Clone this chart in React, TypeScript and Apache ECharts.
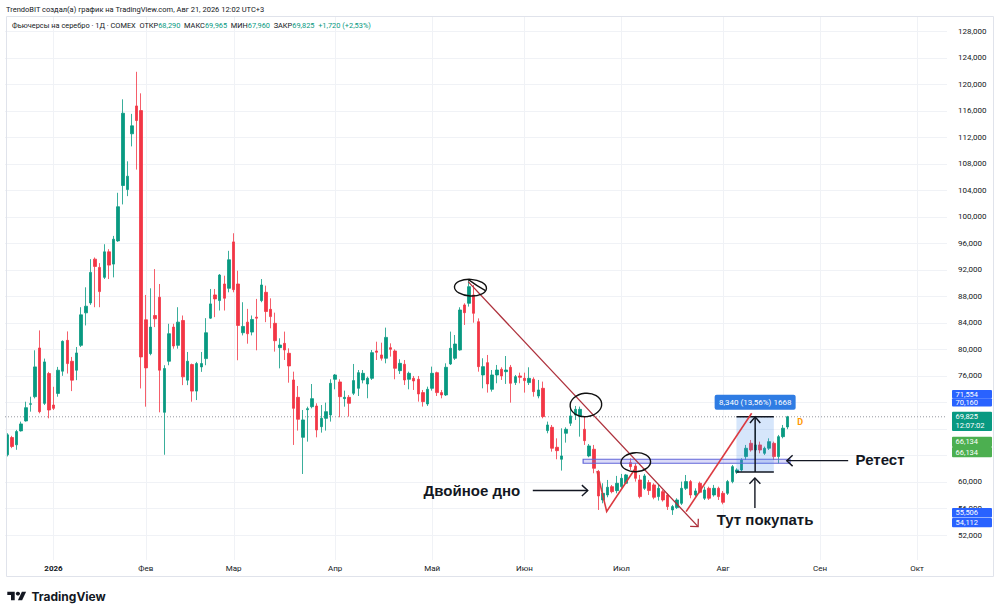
import React, { useEffect, useRef } from "react";
import * as echarts from "echarts";

// ---------- DATA ----------
const TOTAL_SLOTS = 204; // trading-day slots on the time scale (incl. empty future days)
const Y_MIN = 48532;
const Y_MAX = 130262;

// Daily candles [open, high, low, close]
const candlesOHLC: number[][] = [
  [64100, 67350, 63850, 67100], [66700, 66950, 65100, 65350], [65600, 67850, 64850, 67600], [67700, 69100, 67600, 68750],
  [69200, 72100, 69100, 71200], [71700, 72850, 70600, 71800], [72850, 79850, 72600, 77350], [80200, 82850, 70350, 70600],
  [71850, 78600, 71600, 78100], [76350, 76600, 69600, 70850], [71600, 74350, 70850, 71100], [73350, 77350, 72850, 76850],
  [76700, 81350, 76000, 81200], [81350, 82700, 76350, 77850], [78200, 78850, 73700, 75350], [76850, 80350, 75350, 79450],
  [80600, 86350, 80350, 85200], [85500, 89350, 83600, 86500], [87000, 93600, 86700, 91600], [93600, 93850, 86350, 92500],
  [92350, 93000, 86350, 88700], [90850, 95850, 90600, 94700], [94700, 95100, 90600, 92700], [92850, 97100, 90850, 96600],
  [96350, 103600, 96200, 101500], [104700, 117700, 101850, 115600], [104100, 108350, 103100, 106100], [112500, 115500, 110600, 113700],
  [116700, 121850, 107100, 114500], [116000, 118600, 74100, 78850], [84450, 88200, 71350, 77200], [79350, 89200, 79100, 83350],
  [85100, 92100, 83350, 84600], [87850, 89850, 70500, 76850], [70500, 77600, 64100, 77100], [78200, 83850, 77600, 82350],
  [83350, 83850, 80100, 80500], [80600, 86350, 80100, 84100], [84350, 85100, 74600, 75850], [75350, 79600, 74600, 78200],
  [77700, 77850, 72100, 73700], [73700, 78100, 72350, 77850], [77350, 79600, 76600, 77850], [78600, 84700, 77600, 82500],
  [84700, 89100, 84600, 86850], [88200, 89100, 84850, 87600], [87350, 91350, 85850, 91200], [89850, 91100, 85850, 87700],
  [89200, 94850, 88600, 93500], [96200, 97500, 88600, 89000], [89850, 91850, 78350, 83600], [82500, 87100, 82100, 83450],
  [84100, 86100, 80850, 82350], [82600, 85100, 82100, 84500], [84850, 87600, 79850, 84700], [87350, 90600, 87100, 89700],
  [88600, 89600, 84100, 85700], [86030, 87690, 83170, 84930], [83920, 85530, 79650, 81300], [80250, 81660, 77130, 80650],
  [80900, 82670, 78390, 79900], [79400, 80150, 74970, 77490], [75380, 76630, 65580, 71100], [72760, 74470, 67740, 69450],
  [66730, 70850, 61200, 69350], [70900, 71350, 66080, 71050], [71350, 74770, 71100, 72560], [71450, 71860, 66730, 67840],
  [68340, 71600, 67440, 69590], [69590, 71960, 67740, 70600], [70100, 75480, 69100, 74870], [75480, 76280, 73970, 76130],
  [75080, 75480, 69750, 72860], [72560, 73770, 71350, 72760], [72760, 73100, 69850, 71860], [73370, 77790, 73100, 75280],
  [74120, 76880, 72960, 76480], [75380, 76880, 74870, 76380], [74770, 75880, 72620, 75640], [75630, 79900, 75380, 79500],
  [79750, 81150, 78390, 79550], [79150, 81000, 78300, 78650], [78650, 83270, 77890, 81800], [80250, 80900, 78900, 80000],
  [79750, 80000, 75480, 77140], [76780, 78500, 76280, 77890], [77740, 78390, 74620, 75380], [75480, 76630, 73970, 76380],
  [75630, 75980, 73870, 75230], [75480, 75980, 72110, 73270], [73470, 73870, 71360, 72110], [71760, 74370, 71460, 73970],
  [74120, 77390, 73770, 76380], [76480, 76630, 72960, 73470], [73470, 73870, 72610, 73120], [73120, 77890, 72960, 77290],
  [77790, 82670, 77640, 80150], [78650, 82160, 78390, 80800], [79900, 86340, 79800, 85930], [86690, 86940, 83670, 85530],
  [86940, 90560, 86440, 89450], [88200, 89700, 84020, 85430], [84170, 84670, 76630, 77390], [76130, 78650, 74120, 77390],
  [77990, 79150, 73470, 74780], [73970, 76880, 73620, 76130], [76130, 77640, 74880, 76880], [76990, 77290, 75380, 75980],
  [76630, 78990, 74780, 76880], [77290, 77640, 71960, 74880], [74980, 76130, 74620, 75880], [75980, 76480, 74880, 75780],
  [75630, 76480, 73470, 75280], [74980, 77290, 74620, 75630], [75480, 75780, 72860, 73620], [72960, 75380, 72610, 73870],
  [74120, 75130, 69600, 69850], [67740, 69100, 67340, 68590], [68240, 68590, 64570, 65080], [65230, 66580, 63420, 64720],
  [63420, 68090, 61710, 63920], [67340, 68240, 65930, 67940], [68850, 71360, 68440, 69950], [70100, 71460, 69350, 70950],
  [69950, 71360, 66830, 70950], [67940, 69850, 65580, 66230], [63920, 65720, 63720, 65430], [64930, 65580, 61310, 62060],
  [61560, 61810, 55780, 57890], [57290, 59800, 56780, 58290], [58040, 60300, 57690, 59200], [59290, 59540, 58290, 58540],
  [58690, 60910, 58290, 59800], [59300, 61210, 59040, 60550], [59800, 61210, 59700, 61060], [62910, 63570, 61810, 62310],
  [62410, 62810, 60050, 60550], [60300, 61060, 57530, 57790], [59040, 61210, 58800, 60910], [59900, 60300, 58040, 58700],
  [59550, 59800, 57390, 57690], [57790, 59550, 57190, 59040], [58540, 58800, 57040, 57290], [58040, 58290, 55780, 56280],
  [55780, 56530, 55030, 56280], [56130, 57540, 55930, 57280], [56780, 60050, 56530, 59040], [59040, 61050, 58790, 60050],
  [60050, 60300, 57540, 58040], [58040, 59040, 57790, 58640], [59800, 60050, 58290, 58440], [57540, 59290, 57280, 58790],
  [59040, 59290, 57280, 57540], [58040, 59550, 57790, 59040], [59040, 59290, 57280, 57790], [58290, 58640, 56630, 56930],
  [58290, 60300, 58040, 60050], [60050, 62560, 59800, 62310], [61460, 62060, 61210, 61810], [61810, 63570, 61560, 63320],
  [63820, 65580, 63320, 65080], [65830, 66330, 64570, 64820], [64820, 68090, 64570, 65580], [65580, 66080, 64320, 64820],
  [64320, 65330, 64070, 65080], [65080, 66580, 64820, 66080], [65830, 66080, 63320, 63820], [63820, 67090, 62810, 66830],
  [66830, 68590, 66580, 68105], [68290, 69965, 67960, 69825],
];

// Month labels on the time scale: [slot index, label]
const monthTicks: Array<[number, string]> = [
  [10, "2026"], [30, "Фев"], [49, "Мар"], [71, "Апр"], [92, "Май"],
  [112, "Июн"], [133, "Июл"], [155, "Авг"], [176, "Сен"], [197, "Окт"],
];

const priceTicks = [
  52000, 56000, 60000, 64000, 68000, 72000, 76000, 80000, 84000, 88000,
  92000, 96000, 100000, 104000, 108000, 112000, 116000, 120000, 124000, 128000,
];
// tick labels hidden behind the price tags on the scale
const coveredTicks = [64000, 68000, 72000];

const lastClose = 69825;
const countdown = "12:07:02";
const priceTagValues = [71554, 70160, 69825, 66134, 66134, 55506, 54112];

const headerLine1 = "TrendoBIT создал(а) график на TradingView.com, Авг 21, 2026 12:02 UTC+3";
const symbolTitle = "Фьючерсы на серебро · 1Д · COMEX";
const ohlcLegend: Array<[string, string]> = [["ОТКР", "68,290"], ["МАКС", "69,965"], ["МИН", "67,960"], ["ЗАКР", "69,825"]];
const changeText = "+1,720 (+2,53%)";

// Drawings (in [slot, price] coordinates)
const trendLine = [[99.8, 90200], [149.6, 53260]];
const doubleBottomV = [[127.7, 61660], [129.8, 55550], [136.2, 62260]];
const breakoutLine = [[147.0, 55520], [161.2, 70360]];
const circledPoints = [[100.3, 89300], [125.3, 71610], [136.1, 62980]];
const retestZone = { from: 124.7, to: 169.5, low: 62820, high: 63420 };
const measure = { from: 157.9, to: 166.0, low: 61485, high: 69825, label: "8,340 (13,56%) 1668" };
const callouts = [
  { text: "Двойное дно", textAt: [100.6, 58700], from: [113.8, 58700], to: [125.7, 58700] },
  { text: "Ретест", textAt: [189.0, 63320], from: [182.1, 63210], to: [168.8, 63210] },
  { text: "Тут покупать", textAt: [164.1, 54270], from: [161.9, 56080], to: [161.9, 60600] },
];
const eventMark = { text: "D", at: [171.7, 69030] };

// ---------- STYLE ----------
const UP = "#089981";
const DOWN = "#f23645";
const INK = "#131722";
const GRIDLINE = "#f0f2f6";
const FONT = 'Roboto, "Noto Sans", "DejaVu Sans", sans-serif';
const ANNO_FONT = '"Liberation Sans", Arial, sans-serif';

const circleSizes = [
  { rx: 16, ry: 8.3, rot: -0.05 },
  { rx: 15.8, ry: 11.7, rot: 0.1 },
  { rx: 14.8, ry: 9.5, rot: 0.05 },
];

const tagLayout = [
  { cy: 394.2, h: 8.2, color: "#2962ff" },
  { cy: 402.4, h: 8.2, color: "#2962ff" },
  { cy: 421.3, h: 19.3, color: "#089981" },
  { cy: 441.8, h: 10.2, color: "#4caf50" },
  { cy: 452.1, h: 10.2, color: "#4caf50" },
  { cy: 512.8, h: 9.4, color: "#2962ff" },
  { cy: 522.6, h: 9.4, color: "#2962ff" },
];

const fmt = (v: number) => v.toLocaleString("en-US");

function arrowHead(tip: number[], from: number[], size: number, half: number) {
  const dx = tip[0] - from[0];
  const dy = tip[1] - from[1];
  const len = Math.hypot(dx, dy) || 1;
  const bx = -dx / len;
  const by = -dy / len;
  const rot = (a: number) => [
    tip[0] + size * (bx * Math.cos(a) - by * Math.sin(a)),
    tip[1] + size * (bx * Math.sin(a) + by * Math.cos(a)),
  ];
  return [rot(half), tip, rot(-half)];
}

function textEl(x: number, y: number, text: string, opts: any) {
  return {
    type: "text",
    x,
    y,
    style: {
      text,
      fill: opts.fill,
      font: opts.font,
      fontSize: opts.fontSize,
      fontWeight: opts.fontWeight,
      fontFamily: opts.fontFamily,
      align: opts.align || "center",
      verticalAlign: "middle",
      textAlign: opts.align || "center",
      textVerticalAlign: "middle",
    },
  };
}

function renderGrid(_params: any, api: any) {
  const c = (v: number[]) => api.coord(v) as number[];
  const children: any[] = [];
  priceTicks.forEach((p) => {
    const a = c([-0.5, p]);
    const b = c([TOTAL_SLOTS - 0.5, p]);
    const y = Math.round(a[1]) + 0.5;
    children.push({ type: "line", shape: { x1: a[0], y1: y, x2: b[0], y2: y }, style: { stroke: GRIDLINE, lineWidth: 1 } });
  });
  monthTicks.forEach(([s]) => {
    const a = c([s, Y_MAX]);
    const b = c([s, Y_MIN]);
    const x = Math.round(a[0]) + 0.5;
    children.push({ type: "line", shape: { x1: x, y1: a[1], x2: x, y2: b[1] + 2 }, style: { stroke: GRIDLINE, lineWidth: 1 } });
  });
  const l1 = c([-0.5, lastClose]);
  const l2 = c([TOTAL_SLOTS - 0.5, lastClose]);
  children.push({
    type: "line",
    shape: { x1: l1[0], y1: l1[1], x2: l2[0], y2: l2[1] },
    style: { stroke: "#9598a1", lineWidth: 1, lineDash: [1, 2] },
  });
  return { type: "group", children };
}

function renderDrawings(_params: any, api: any) {
  const c = (v: number[]) => api.coord(v) as number[];
  const children: any[] = [];
  const RED_DARK = "#ad2f3a";
  const RED = "#dc3a40";

  // retest zone
  const z1 = c([retestZone.from, retestZone.high]);
  const z2 = c([retestZone.to, retestZone.low]);
  children.push({
    type: "rect",
    shape: { x: z1[0], y: z1[1], width: z2[0] - z1[0], height: z2[1] - z1[1] },
    style: { fill: "rgba(110,112,224,0.25)", stroke: "#6266d9", lineWidth: 1.2 },
  });

  // measure box
  const m1 = c([measure.from, measure.high]);
  const m2 = c([measure.to, measure.low]);
  children.push({
    type: "rect",
    shape: { x: m1[0], y: m1[1], width: m2[0] - m1[0], height: m2[1] - m1[1] },
    style: { fill: "rgba(70,140,235,0.22)" },
  });
  children.push({ type: "line", shape: { x1: m1[0], y1: m1[1], x2: m2[0], y2: m1[1] }, style: { stroke: INK, lineWidth: 1.5 } });
  children.push({ type: "line", shape: { x1: m1[0], y1: m2[1], x2: m2[0], y2: m2[1] }, style: { stroke: INK, lineWidth: 1.5 } });
  const mx = (m1[0] + m2[0]) / 2;
  children.push({ type: "line", shape: { x1: mx, y1: m2[1], x2: mx, y2: m1[1] }, style: { stroke: INK, lineWidth: 1.5 } });
  children.push({
    type: "polyline",
    shape: { points: arrowHead([mx, m1[1]], [mx, m2[1]], 8, 0.7) },
    style: { stroke: INK, lineWidth: 1.5, fill: null },
  });
  const lw = 81;
  const lh = 15;
  const ly = m1[1] - 14.5;
  children.push({
    type: "rect",
    shape: { x: mx - lw / 2, y: ly - lh / 2, width: lw, height: lh, r: 2 },
    style: { fill: "#2f7ce3" },
  });
  children.push(textEl(mx, ly, measure.label, { fill: "#ffffff", font: `8px ${FONT}`, fontSize: 8, fontFamily: FONT }));

  // red trend line with arrow
  const t1 = c(trendLine[0]);
  const t2 = c(trendLine[1]);
  children.push({ type: "line", shape: { x1: t1[0], y1: t1[1], x2: t2[0], y2: t2[1] }, style: { stroke: RED_DARK, lineWidth: 1.3 } });
  children.push({
    type: "polyline",
    shape: { points: arrowHead(t2, t1, 8, 0.78) },
    style: { stroke: RED_DARK, lineWidth: 1.3, fill: null },
  });

  // double bottom V
  children.push({
    type: "polyline",
    shape: { points: doubleBottomV.map(c) },
    style: { stroke: RED, lineWidth: 1.6, fill: null },
  });
  // breakout line
  const b1 = c(breakoutLine[0]);
  const b2 = c(breakoutLine[1]);
  children.push({ type: "line", shape: { x1: b1[0], y1: b1[1], x2: b2[0], y2: b2[1] }, style: { stroke: RED, lineWidth: 1.6 } });

  // hand-drawn circles
  circledPoints.forEach((p, i) => {
    const q = c(p);
    const s = circleSizes[i];
    children.push({
      type: "ellipse",
      x: q[0],
      y: q[1],
      rotation: s.rot,
      shape: { cx: 0, cy: 0, rx: s.rx, ry: s.ry },
      style: { fill: "none", stroke: "#111111", lineWidth: 1.4 },
    });
  });
  // small hook inside the first circle
  const h0 = c(circledPoints[0]);
  children.push({
    type: "bezierCurve",
    shape: { x1: h0[0] - 2, y1: h0[1] - 8, cpx1: h0[0] + 6, cpy1: h0[1] - 2, x2: h0[0] + 15, y2: h0[1] + 3 },
    style: { stroke: "#111111", lineWidth: 1.3, fill: null },
  });

  // callout arrows + texts
  callouts.forEach((co) => {
    const a = c(co.from);
    const b = c(co.to);
    children.push({ type: "line", shape: { x1: a[0], y1: a[1], x2: b[0], y2: b[1] }, style: { stroke: INK, lineWidth: 1.4 } });
    children.push({
      type: "polyline",
      shape: { points: arrowHead(b, a, 8, 0.75) },
      style: { stroke: INK, lineWidth: 1.4, fill: null },
    });
    const t = c(co.textAt);
    children.push(
      textEl(t[0], t[1], co.text, {
        fill: INK,
        font: `bold 15px ${ANNO_FONT}`,
        fontSize: 15,
        fontWeight: "bold",
        fontFamily: ANNO_FONT,
      })
    );
  });

  // event marker
  const d = c(eventMark.at);
  children.push(textEl(d[0], d[1], eventMark.text, { fill: "#ff9800", font: `bold 9px ${FONT}`, fontSize: 9, fontWeight: "bold", fontFamily: FONT }));

  return { type: "group", children };
}

function buildGraphics() {
  const els: any[] = [];
  // pane border
  els.push({
    type: "rect",
    z: 50,
    silent: true,
    shape: { x: 6.5, y: 16.5, width: 987, height: 560 },
    style: { fill: "none", stroke: "#e0e3eb", lineWidth: 1 },
  });
  // price tags on the scale
  priceTagValues.forEach((v, i) => {
    const L = tagLayout[i];
    els.push({
      type: "rect",
      z: 100,
      silent: true,
      shape: { x: 952, y: L.cy - L.h / 2, width: 40, height: L.h, r: 1 },
      style: { fill: L.color },
    });
    const twoLine = v === lastClose;
    const textY = twoLine ? L.cy - 4.6 : L.cy;
    els.push({
      type: "text",
      z: 101,
      silent: true,
      x: 955.5,
      y: textY,
      style: { text: fmt(v), fill: "#ffffff", font: `7.5px ${FONT}`, textAlign: "left", textVerticalAlign: "middle", align: "left", verticalAlign: "middle" },
    });
    if (twoLine) {
      els.push({
        type: "text",
        z: 101,
        silent: true,
        x: 955.5,
        y: L.cy + 4.6,
        style: { text: countdown, fill: "#ffffff", font: `7.5px ${FONT}`, textAlign: "left", textVerticalAlign: "middle", align: "left", verticalAlign: "middle" },
      });
    }
  });
  // TradingView logo
  els.push({
    type: "group",
    z: 100,
    x: 7.3,
    y: 589.8,
    scaleX: 0.53,
    scaleY: 0.47,
    silent: true,
    children: [
      { type: "polygon", shape: { points: [[0, 4], [14, 4], [14, 22], [7, 22], [7, 11], [0, 11]] }, style: { fill: INK } },
      { type: "circle", shape: { cx: 20, cy: 8, r: 4 }, style: { fill: INK } },
      { type: "polygon", shape: { points: [[20, 22], [27.5, 4], [35.5, 4], [28, 22]] }, style: { fill: INK } },
    ],
  });
  els.push({
    type: "text",
    z: 100,
    silent: true,
    x: 31.5,
    y: 596.5,
    style: { text: "TradingView", fill: INK, font: `bold 12px Inter, ${FONT}`, textAlign: "left", textVerticalAlign: "middle", align: "left", verticalAlign: "middle" },
  });
  return els;
}

function buildOption() {
  const slots = Array.from({ length: TOTAL_SLOTS }, (_, i) => String(i));
  const monthMap = new Map<number, string>(monthTicks);
  const candleData = candlesOHLC.map(([o, h, l, c]) => [o, c, l, h]);
  const labelTicks = priceTicks.filter((p) => !coveredTicks.includes(p));

  let legendRich = `{d|${symbolTitle}}{d|  }`;
  ohlcLegend.forEach(([k, v]) => {
    legendRich += `{d|${k}}{g|${v}}{d|  }`;
  });
  legendRich += `{g|${changeText}}`;

  return {
    animation: false,
    backgroundColor: "#ffffff",
    textStyle: { fontFamily: FONT },
    title: [
      {
        text: headerLine1,
        left: 6,
        top: 5,
        padding: 0,
        textStyle: { fontSize: 7.5, fontWeight: "normal", color: INK, fontFamily: FONT },
      },
      {
        text: legendRich,
        left: 12,
        top: 21.5,
        padding: 0,
        textStyle: {
          fontSize: 7.5,
          fontWeight: "normal",
          rich: {
            d: { fontSize: 7.4, color: INK, fontFamily: FONT },
            g: { fontSize: 7.4, color: UP, fontFamily: FONT },
          },
        },
      },
    ],
    grid: { left: 5, right: 53, top: 16, bottom: 58 },
    xAxis: [
      {
        type: "category",
        data: slots,
        boundaryGap: true,
        axisLine: { show: false },
        axisTick: { show: false },
        splitLine: { show: false },
        axisLabel: {
          interval: (i: number) => monthMap.has(i),
          formatter: (_v: string, i: number) => {
            const s = monthMap.get(i) || "";
            return /^\d+$/.test(s) ? `{y|${s}}` : s;
          },
          margin: 6,
          fontSize: 8,
          color: INK,
          fontFamily: FONT,
          rich: { y: { fontSize: 8, fontWeight: "bold", color: INK, fontFamily: FONT } },
        },
      },
      { type: "value", min: -0.5, max: TOTAL_SLOTS - 0.5, show: false },
    ],
    yAxis: {
      type: "value",
      position: "right",
      min: Y_MIN,
      max: Y_MAX,
      axisLine: { show: false },
      axisTick: { show: false, customValues: labelTicks },
      splitLine: { show: false },
      axisLabel: {
        customValues: labelTicks,
        formatter: (v: number) => fmt(v),
        margin: 11,
        fontSize: 8,
        color: INK,
        fontFamily: FONT,
        showMinLabel: true,
        showMaxLabel: true,
      },
    },
    graphic: { elements: buildGraphics() },
    series: [
      {
        type: "custom",
        name: "grid",
        xAxisIndex: 1,
        yAxisIndex: 0,
        silent: true,
        z: 1,
        data: [[0, lastClose]],
        renderItem: renderGrid,
      },
      {
        type: "candlestick",
        xAxisIndex: 0,
        yAxisIndex: 0,
        silent: true,
        z: 2,
        barWidth: 3,
        data: candleData,
        itemStyle: { color: UP, color0: DOWN, borderColor: UP, borderColor0: DOWN, borderWidth: 0.8 },
      },
      {
        type: "custom",
        name: "drawings",
        xAxisIndex: 1,
        yAxisIndex: 0,
        silent: true,
        z: 5,
        data: [[0, lastClose]],
        renderItem: renderDrawings,
      },
    ],
  };
}

export default function App() {
  const ref = useRef<HTMLDivElement>(null);
  useEffect(() => {
    const el = ref.current;
    if (!el) return;
    const chart = echarts.init(el, undefined, { renderer: "svg" });
    chart.setOption(buildOption() as any);
    return () => chart.dispose();
  }, []);
  return (
    <div
      ref={ref}
      style={{ position: "fixed", left: 0, top: 0, width: 1000, height: 616, background: "#ffffff" }}
    />
  );
}
